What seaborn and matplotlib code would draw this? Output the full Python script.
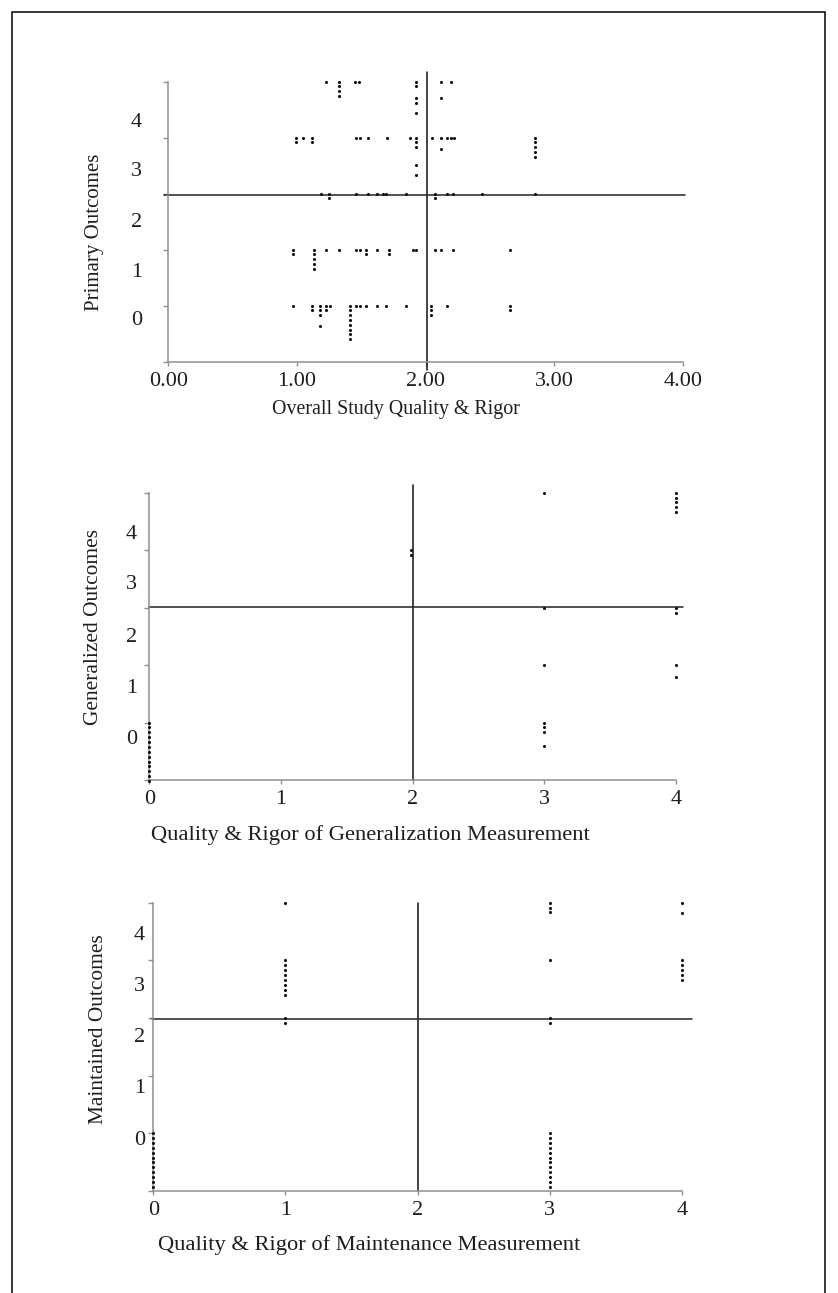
import numpy as np
import pandas as pd
import matplotlib
matplotlib.use("Agg")
import matplotlib.pyplot as plt
from matplotlib.patches import Rectangle
from matplotlib.ticker import FixedLocator, FixedFormatter, NullFormatter
import seaborn as sns

# ---------------------------------------------------------------------------
# Study scores. Each entry is a group of studies sharing the same quality
# score and outcome score; repeated studies are stacked downward as dots.
# ---------------------------------------------------------------------------
primary_quality = [
    1.23, 1.33, 1.45, 1.48, 1.93, 1.93, 1.93, 2.12, 2.12, 2.20,
    0.99, 1.045, 1.12, 1.46, 1.49, 1.55, 1.70, 1.88, 1.93, 1.93, 1.93,
    2.05, 2.12, 2.12, 2.17, 2.20, 2.22, 2.85,
    1.185, 1.25, 1.46, 1.55, 1.62, 1.67, 1.69, 1.85, 2.07, 2.17, 2.21,
    2.44, 2.85,
    0.97, 1.135, 1.225, 1.33, 1.46, 1.49, 1.535, 1.62, 1.72, 1.90, 1.93,
    2.07, 2.12, 2.21, 2.66,
    0.97, 1.12, 1.18, 1.18, 1.225, 1.255, 1.41, 1.46, 1.49, 1.54, 1.62,
    1.69, 1.85, 2.04, 2.17, 2.66,
]
primary_outcome = [
    4.0, 4.0, 4.0, 4.0, 4.0, 3.71, 3.44, 4.0, 3.71, 4.0,
    3.0, 3.0, 3.0, 3.0, 3.0, 3.0, 3.0, 3.0, 3.0, 2.51, 2.33,
    3.0, 3.0, 2.80, 3.0, 3.0, 3.0, 3.0,
    2.0, 2.0, 2.0, 2.0, 2.0, 2.0, 2.0, 2.0, 2.0, 2.0, 2.0,
    2.0, 2.0,
    1.0, 1.0, 1.0, 1.0, 1.0, 1.0, 1.0, 1.0, 1.0, 1.0, 1.0,
    1.0, 1.0, 1.0, 1.0,
    0.0, 0.0, 0.0, -0.37, 0.0, 0.0, 0.0, 0.0, 0.0, 0.0, 0.0,
    0.0, 0.0, 0.0, 0.0, 0.0,
]
primary_count = [
    1, 4, 1, 1, 2, 2, 1, 1, 1, 1,
    2, 1, 2, 1, 1, 1, 1, 1, 3, 1, 1,
    1, 1, 1, 1, 1, 1, 5,
    1, 2, 1, 1, 1, 1, 1, 1, 2, 1, 1,
    1, 1,
    2, 5, 1, 1, 1, 1, 2, 1, 2, 1, 1,
    1, 1, 1, 1,
    1, 2, 3, 1, 2, 1, 8, 1, 1, 1, 1,
    1, 1, 3, 1, 2,
]

generalized_quality = [0, 1.99, 3, 3, 3, 3, 3, 4, 4, 4, 4]
generalized_outcome = [0, 3.0, 4, 2, 1, 0, -0.4, 4, 2, 1, 0.79]
generalized_count = [13, 2, 1, 1, 1, 3, 1, 5, 2, 1, 1]

maintained_quality = [0, 1, 1, 1, 3, 3, 3, 3, 4, 4, 4]
maintained_outcome = [0, 4, 3, 2, 4, 3, 2, 0, 4, 3.82, 3]
maintained_count = [12, 1, 8, 2, 3, 1, 2, 12, 1, 1, 5]

# Axis labels and tick labels
x_titles = [
    "Overall Study Quality & Rigor",
    "Quality & Rigor of Generalization Measurement",
    "Quality & Rigor of Maintenance Measurement",
]
y_titles = ["Primary Outcomes", "Generalized Outcomes", "Maintained Outcomes"]
x_tick_values = [0, 1, 2, 3, 4]
x_tick_text_primary = ["0.00", "1.00", "2.00", "3.00", "4.00"]
x_tick_text_other = ["0", "1", "2", "3", "4"]
y_tick_text = ["0", "1", "2", "3", "4"]

# Cut points drawn as reference lines (quality, outcome)
cut_quality = [2.01, 2.0, 2.0]
cut_outcome = [1.97, 2.01, 1.98]

# ---------------------------------------------------------------------------
# Style
# ---------------------------------------------------------------------------
sns.set_theme(style="white")
plt.rcParams["font.family"] = ["Liberation Serif", "DejaVu Serif"]
TEXT = "#1e1e1e"
SPINE = "#8f8f8f"
STACK_STEP = 0.085

W, H = 838, 1293
fig = plt.figure(figsize=(W / 100, H / 100), dpi=100)
fig.patch.set_facecolor("white")


def px_box(left, right, top, bottom):
    return [left / W, 1 - bottom / H, (right - left) / W, (bottom - top) / H]


layout = [
    dict(box=px_box(168.3, 682.7, 81.7, 361.7),
         ylab_pos=[-0.225, 0.635, 1.53, 2.45, 3.31], ypad=19.0,
         xlabel_xy=(0.443, -0.172), ylabel_xy=(-0.1425, 0.463),
         xlabel_size=14.4, ylabel_size=15.0, tick_size=16.0,
         vline=(-1.15, 4.17), hline=(-0.03, 4.02)),
    dict(box=px_box(149.3, 676.0, 492.7, 780.0),
         ylab_pos=[-0.26, 0.64, 1.52, 2.44, 3.32], ypad=9.0,
         xlabel_xy=(0.419, -0.191), ylabel_xy=(-0.106, 0.533),
         xlabel_size=16.2, ylabel_size=15.4, tick_size=16.0,
         vline=(-1.0, 4.13), hline=(0.0, 4.05)),
    dict(box=px_box(153.3, 681.7, 902.7, 1190.7),
         ylab_pos=[-0.09, 0.81, 1.70, 2.58, 3.47], ypad=6.0,
         xlabel_xy=(0.408, -0.1885), ylabel_xy=(-0.104, 0.561),
         xlabel_size=16.2, ylabel_size=15.4, tick_size=16.0,
         vline=(-1.0, 4.0), hline=(-0.01, 4.08)),
]

panels = [
    (primary_quality, primary_outcome, primary_count, x_tick_text_primary),
    (generalized_quality, generalized_outcome, generalized_count, x_tick_text_other),
    (maintained_quality, maintained_outcome, maintained_count, x_tick_text_other),
]


def expand(xs, ys, ns):
    """Turn grouped scores into one row per study, stacking repeats downward."""
    rows = []
    for x, y, n in zip(xs, ys, ns):
        for k in range(n):
            rows.append((x, y - k * STACK_STEP))
    return pd.DataFrame(rows, columns=["quality", "outcome"])


for i, ((xs, ys, ns, xtxt), lay) in enumerate(zip(panels, layout)):
    ax = fig.add_axes(lay["box"])
    ax.set_facecolor("white")
    df = expand(xs, ys, ns)

    sns.scatterplot(data=df, x="quality", y="outcome", ax=ax, color="#111111",
                    marker="o", s=5.0, linewidth=0, clip_on=False, zorder=3)

    # reference lines at the cut points
    ax.plot([cut_quality[i], cut_quality[i]], list(lay["vline"]), color="#1a1a1a",
            lw=1.15, clip_on=False, zorder=2)
    ax.plot(list(lay["hline"]), [cut_outcome[i], cut_outcome[i]], color="#2a2a2a",
            lw=1.15, clip_on=False, zorder=2)

    ax.set_xlim(0, 4)
    ax.set_ylim(-1, 4)

    for side in ("top", "right"):
        ax.spines[side].set_visible(False)
    for side in ("left", "bottom"):
        ax.spines[side].set_color(SPINE)
        ax.spines[side].set_linewidth(1.1)

    ax.xaxis.set_major_locator(FixedLocator(x_tick_values))
    ax.xaxis.set_major_formatter(FixedFormatter(xtxt))
    ax.tick_params(axis="x", which="major", direction="out", length=3.2, width=1.0,
                   color=SPINE, labelsize=lay["tick_size"], labelcolor=TEXT,
                   pad=4, bottom=True)

    ax.yaxis.set_major_locator(FixedLocator([-1, 0, 1, 2, 3, 4]))
    ax.yaxis.set_major_formatter(NullFormatter())
    ax.yaxis.set_minor_locator(FixedLocator(lay["ylab_pos"]))
    ax.yaxis.set_minor_formatter(FixedFormatter(y_tick_text))
    ax.tick_params(axis="y", which="major", direction="out", length=3.8, width=1.0,
                   color=SPINE, left=True)
    ax.tick_params(axis="y", which="minor", length=0, labelsize=lay["tick_size"],
                   labelcolor=TEXT, pad=lay["ypad"], left=True)

    ax.set_xlabel(x_titles[i], fontsize=lay["xlabel_size"], color=TEXT, va="center")
    ax.set_ylabel(y_titles[i], fontsize=lay["ylabel_size"], color=TEXT, va="center")
    ax.xaxis.set_label_coords(*lay["xlabel_xy"])
    ax.yaxis.set_label_coords(*lay["ylabel_xy"])
    ax.grid(False)

# frame around the whole figure
fig.add_artist(Rectangle((12 / W, -0.01), (825 - 12) / W, 1 - 12 / H + 0.01,
                         transform=fig.transFigure, fill=False,
                         edgecolor="black", linewidth=1.1))

fig.savefig("out.png", dpi=100, facecolor="white")
